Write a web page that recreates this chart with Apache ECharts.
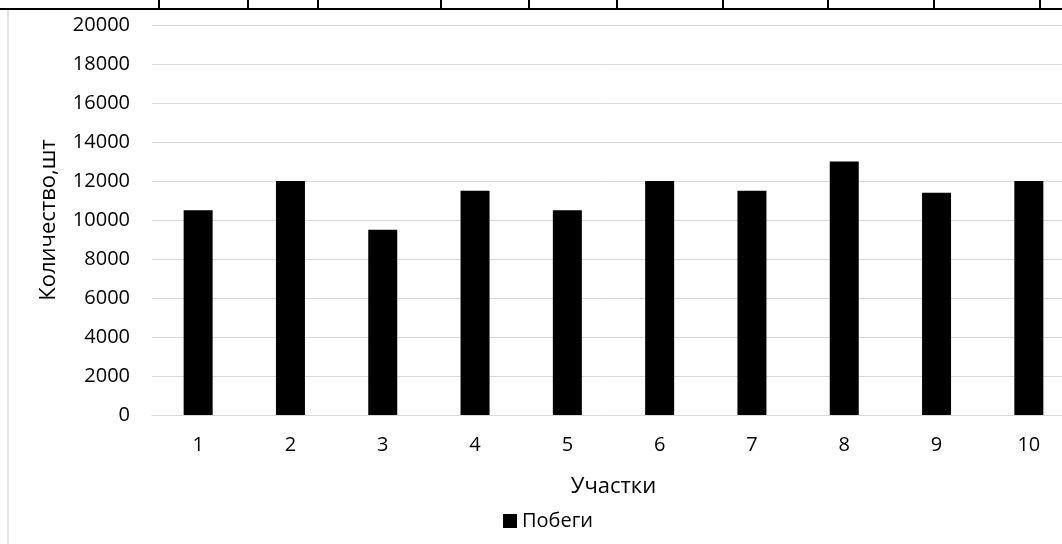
<!DOCTYPE html>
<html>
<head>
<meta charset="utf-8">
<script src="https://cdn.jsdelivr.net/npm/echarts@6/dist/echarts.min.js"></script>
<style>
  html, body { margin: 0; padding: 0; background: #fff; }
  #main { width: 1062px; height: 544px; }
</style>
</head>
<body>
<div id="main"></div>
<script>
    var myChart = echarts.init(document.getElementById('main'));

    // участки и количество побегов
    var uchastki = ['1', '2', '3', '4', '5', '6', '7', '8', '9', '10'];
    var pobegi = [10500, 12000, 9500, 11500, 10500, 12000, 11500, 13000, 11400, 12000];
    var yTicks = [0, 20000, 2000];

    // обрезанная таблица сверху (только рамка)
    var tableCols = [159, 248, 318, 441, 529, 617, 723, 828, 934, 1040];
    var decor = [
        {type: 'line', shape: {x1: 0, y1: 9, x2: 1062, y2: 9}, style: {stroke: '#000', lineWidth: 2}},
        {type: 'line', shape: {x1: 8, y1: 10, x2: 8, y2: 544}, style: {stroke: '#d9d9d9', lineWidth: 1.5}}
    ];
    tableCols.forEach(function (x) {
        decor.push({type: 'line', shape: {x1: x, y1: 0, x2: x, y2: 9}, style: {stroke: '#000', lineWidth: 2}});
    });

    var font = '"Open Sans", "Noto Sans", sans-serif';

    option = {
        textStyle: {fontFamily: font},
        graphic: decor,
        legend: {
            data: ['Побеги'],
            left: 498,
            top: 506,
            itemWidth: 14,
            itemHeight: 14,
            itemGap: 5,
            icon: 'rect',
            textStyle: {fontSize: 20, color: '#000', fontFamily: font}
        },
        // сетка уходит за правый край, как в оригинале
        grid: {left: 152, width: 923, top: 25, bottom: 129, outerBoundsMode: 'none', containLabel: false},
        xAxis: {
            type: 'category',
            data: uchastki,
            name: 'Участки',
            nameLocation: 'middle',
            nameGap: 61,
            nameTextStyle: {fontSize: 22, color: '#000', fontFamily: font},
            axisLine: {lineStyle: {color: '#d9d9d9'}},
            axisTick: {show: false},
            axisLabel: {margin: 20, fontSize: 20, color: '#000', fontFamily: font}
        },
        yAxis: {
            type: 'value',
            min: yTicks[0],
            max: yTicks[1],
            interval: yTicks[2],
            name: 'Количество,шт',
            nameLocation: 'middle',
            nameGap: 92,
            nameTextStyle: {fontSize: 22, color: '#000', fontFamily: font},
            axisLine: {show: false},
            axisTick: {show: false},
            splitLine: {lineStyle: {color: '#d9d9d9'}},
            axisLabel: {
                margin: 22, fontSize: 20, color: '#000', fontFamily: font,
                formatter: function (v) { return String(v); }
            }
        },
        series: [{
            name: 'Побеги',
            type: 'bar',
            data: pobegi,
            barWidth: 29,
            itemStyle: {color: '#000'}
        }]
    };

    myChart.setOption(option);
</script>
</body>
</html>
